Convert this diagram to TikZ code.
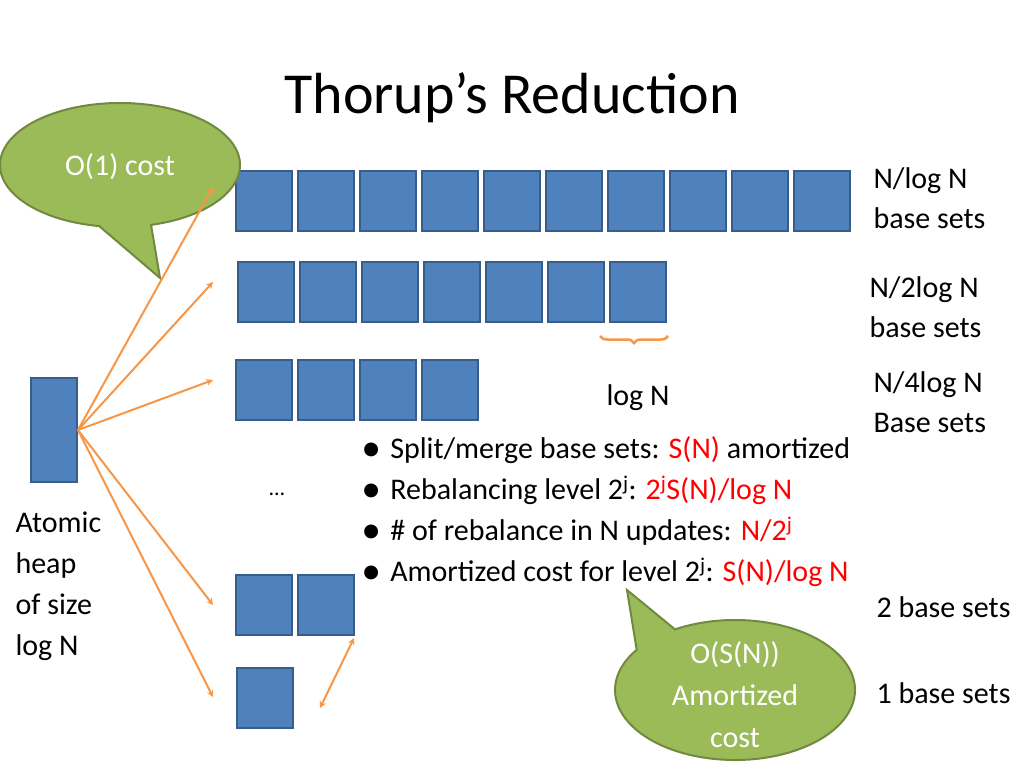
\documentclass[tikz,border=0pt]{standalone}
\usepackage{fontspec}
\setmainfont{Carlito}
\usetikzlibrary{decorations.pathreplacing}
\definecolor{boxb}{HTML}{4F81BD}
\definecolor{boxe}{HTML}{385D8A}
\definecolor{orn}{HTML}{F79646}
\definecolor{grn}{HTML}{9BBB59}
\definecolor{grne}{HTML}{71893F}
\definecolor{txt}{HTML}{404040}
\begin{document}
\begin{tikzpicture}[x=1pt,y=-1pt,
 sq/.style={draw=boxe,line width=2pt,fill=boxb,minimum width=56pt,minimum height=60pt,inner sep=0pt},
 arr/.style={orn,line width=2pt,-stealth},
 lab/.style={font=\fontsize{30}{40}\selectfont,text=black,align=left},
 bubble/.style={fill=grn,draw=grne,line width=2pt}]
\useasboundingbox (0,0) rectangle (1024,768);
\node[font=\fontsize{58}{66}\selectfont,text=black] (title) at (512,98) {Thorup’s Reduction};
% rows
\foreach \i in {0,...,9} \node[sq] (a\i) at (264+62*\i,201) {};
\foreach \i in {0,...,6} \node[sq] (b\i) at (266+62*\i,292) {};
\foreach \i in {0,...,3} \node[sq] (c\i) at (264+62*\i,390) {};
\foreach \i in {0,...,1} \node[sq] (d\i) at (264+62*\i,605) {};
\node[sq] (e0) at (265,698) {};
\node[draw=boxe,line width=2pt,fill=boxb,minimum width=46pt,minimum height=104pt,inner sep=0pt] (h) at (54,430) {};
% callouts
\draw[bubble] (160,278) -- ([shift={(100:120 and 62)}]120,165) arc[start angle=100,end angle=435,x radius=120,y radius=62] -- cycle;
\node[lab,text=white] (c1) at (120,167) {O(1) cost};
\draw[bubble] (627,590) -- ([shift={(240:120 and 70)}]735,690) arc[start angle=240,end angle=575,x radius=120,y radius=70] -- cycle;
\node[lab,text=white,align=center,font=\fontsize{30}{42}\selectfont] (c2) at (735,695) {O(S(N))\\Amortized\\cost};
% arrows
\coordinate (o) at (78,430);
\draw[arr] (o) -- (213,187);
\draw[arr] (o) -- (213,282);
\draw[arr] (o) -- (213,380);
\draw[arr] (o) -- (213,605);
\draw[arr] (o) -- (213,697);
\draw[orn,line width=2pt,stealth-stealth] (320,708) -- (354,638);
\draw[orn,line width=2.5pt,decorate,decoration={brace,mirror,amplitude=7pt}] (600,336) -- (668,336);
% labels
\node[lab,anchor=west] (l1) at (870,198) {N/log N\\base sets};
\node[lab,anchor=west] (l2) at (866,307) {N/2log N\\base sets};
\node[lab,anchor=west] (l3) at (870,402) {N/4log N\\Base sets};
\node[lab,anchor=east] (l4) at (1014,607) {2 base sets};
\node[lab,anchor=east] (l5) at (1014,693) {1 base sets};
\node[lab] (lg) at (638,398) {log N};
\node[lab] (dots) at (277,494) {\fontsize{22}{24}\selectfont …};
\node[lab,anchor=north west,font=\fontsize{30}{41}\selectfont] (at) at (12,508) {Atomic\\heap\\of size\\log N};
\node[lab,anchor=north west,font=\fontsize{30}{41}\selectfont,inner sep=0pt] (bul) at (362,436) {%
{\fontsize{30}{30}\selectfont●}\hspace{10pt}Split/merge base sets: \textcolor{red}{S(N)} amortized\\
{\fontsize{30}{30}\selectfont●}\hspace{10pt}Rebalancing level 2\textsuperscript{j}: \textcolor{red}{2\textsuperscript{j}S(N)/log N}\\
{\fontsize{30}{30}\selectfont●}\hspace{10pt}\# of rebalance in N updates: \textcolor{red}{N/2\textsuperscript{j}}\\
{\fontsize{30}{30}\selectfont●}\hspace{10pt}Amortized cost for level 2\textsuperscript{j}: \textcolor{red}{S(N)/log N}};
\end{tikzpicture}
\end{document}
